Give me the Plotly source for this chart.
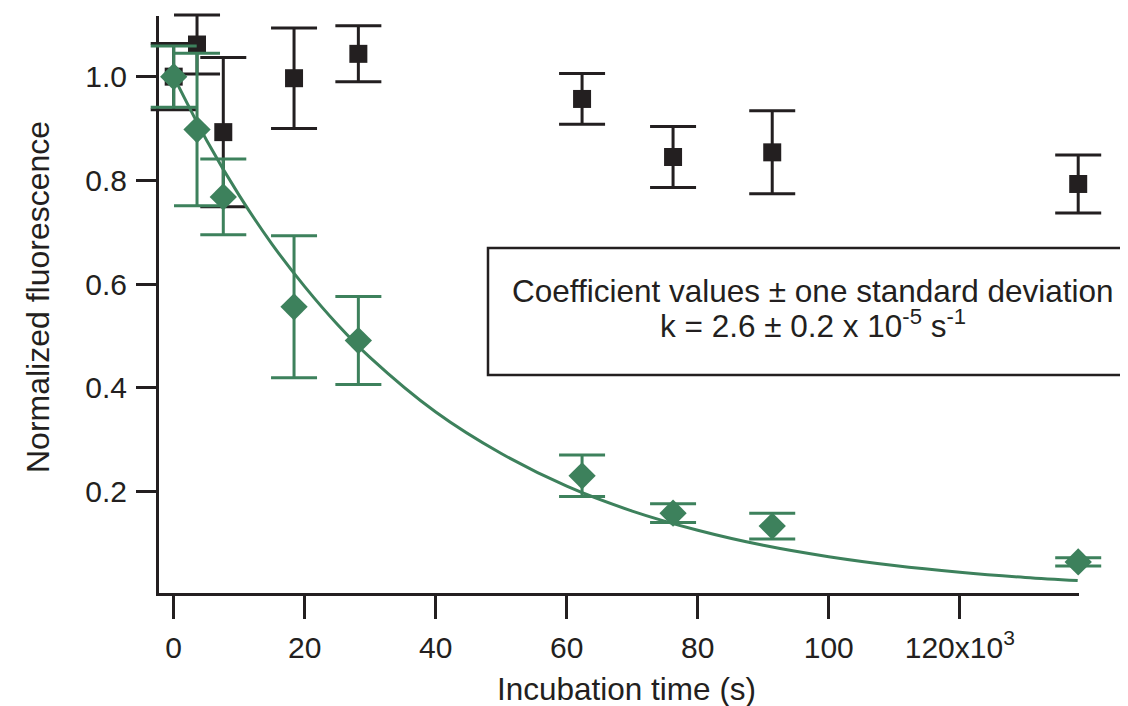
import plotly.graph_objects as go

# ---- data ----
time_s = [0, 3560, 7570, 18370, 28190, 62340, 76230, 91370, 138080]
control_y = [1.000, 1.062, 0.893, 0.997, 1.044, 0.957, 0.845, 0.854, 0.793]
control_err = [0.064, 0.057, 0.144, 0.097, 0.054, 0.049, 0.059, 0.080, 0.056]
treated_y = [1.000, 0.898, 0.768, 0.556, 0.491, 0.230, 0.158, 0.133, 0.064]
treated_err = [0.059, 0.147, 0.073, 0.137, 0.085, 0.040, 0.018, 0.025, 0.008]

fit_x = [0, 5000, 10000, 15000, 20000, 25000, 30000, 40000, 50000, 60000,
         70000, 80000, 90000, 100000, 110000, 120000, 130000, 138000]
fit_y = [1.000, 0.878, 0.771, 0.677, 0.595, 0.522, 0.458, 0.353, 0.273, 0.210,
         0.162, 0.125, 0.096, 0.074, 0.057, 0.044, 0.034, 0.028]

x_tickvals = [0, 20000, 40000, 60000, 80000, 100000, 120000]
x_ticktext = ["0", "20", "40", "60", "80", "100", "120x10<sup>3</sup>"]
y_tickvals = [0.2, 0.4, 0.6, 0.8, 1.0]
y_ticktext = ["0.2", "0.4", "0.6", "0.8", "1.0"]

BLACK = "#231f20"
GREEN = "#3d815c"
FONT = "Liberation Sans, Arial, sans-serif"

OFF = 8  # default page body margin
W, H = 1128 - OFF, 706 - OFF
# visible axes frame (page pixels, converted to figure pixels)
PX_L, PX_R, PX_T, PX_B = 159 - OFF, 1079 - OFF, 16 - OFF, 593 - OFF
X_RANGE = [-2244, 138200]
Y_RANGE = [0.004, 1.117]


def px(x):
    return (x - OFF) / W


def py(y):
    return (H - (y - OFF)) / H


# full-figure data subplot with the same scale (so error bars are not clipped)
ux = (X_RANGE[1] - X_RANGE[0]) / (PX_R - PX_L)
uy = (Y_RANGE[1] - Y_RANGE[0]) / (PX_B - PX_T)
X2_RANGE = [X_RANGE[0] - PX_L * ux, X_RANGE[1] + (W - PX_R) * ux]
Y2_RANGE = [Y_RANGE[0] - (H - PX_B) * uy, Y_RANGE[1] + PX_T * uy]

fig = go.Figure()

# invisible trace to activate the display axes
fig.add_trace(go.Scatter(x=[None], y=[None], xaxis="x", yaxis="y",
                         mode="markers", showlegend=False, hoverinfo="skip"))

fig.add_trace(go.Scatter(
    x=time_s, y=control_y, mode="markers", xaxis="x2", yaxis="y2",
    marker=dict(symbol="square", size=18, color=BLACK),
    error_y=dict(type="data", array=control_err, color=BLACK, thickness=3, width=23),
    cliponaxis=False, showlegend=False))

fig.add_trace(go.Scatter(
    x=fit_x, y=fit_y, mode="lines", xaxis="x2", yaxis="y2",
    line=dict(color=GREEN, width=3, shape="spline"),
    showlegend=False))

fig.add_trace(go.Scatter(
    x=time_s, y=treated_y, mode="markers", xaxis="x2", yaxis="y2",
    marker=dict(symbol="diamond", size=21, color=GREEN),
    error_y=dict(type="data", array=treated_err, color=GREEN, thickness=3, width=23),
    cliponaxis=False, showlegend=False))

fig.update_layout(
    width=W, height=H,
    margin=dict(l=0, r=0, t=0, b=0, autoexpand=False),
    paper_bgcolor="white", plot_bgcolor="rgba(0,0,0,0)",
    font=dict(family=FONT, size=30, color=BLACK),
    showlegend=False,
    xaxis=dict(
        domain=[PX_L / W, PX_R / W], anchor="y", range=X_RANGE,
        showgrid=False, zeroline=False, automargin=False,
        showline=True, linecolor=BLACK, linewidth=3,
        ticks="outside", ticklen=23, tickwidth=3, tickcolor=BLACK,
        tickvals=x_tickvals, ticktext=x_ticktext, ticklabelstandoff=3,
        tickfont=dict(size=30, family=FONT, color=BLACK),
    ),
    yaxis=dict(
        domain=[(H - PX_B) / H, (H - PX_T) / H], anchor="x", range=Y_RANGE,
        showgrid=False, zeroline=False, automargin=False,
        showline=True, linecolor=BLACK, linewidth=3,
        ticks="outside", ticklen=20, tickwidth=3, tickcolor=BLACK,
        tickvals=y_tickvals, ticktext=y_ticktext, ticklabelstandoff=3,
        tickfont=dict(size=30, family=FONT, color=BLACK),
    ),
    xaxis2=dict(domain=[0, 1], anchor="y2", range=X2_RANGE, visible=False,
                automargin=False, fixedrange=True),
    yaxis2=dict(domain=[0, 1], anchor="x2", range=Y2_RANGE, visible=False,
                automargin=False, fixedrange=True),
)

# axis titles
fig.add_annotation(xref="paper", yref="paper", x=px(38), y=py(297),
                   text="Normalized fluorescence", textangle=-90, showarrow=False,
                   xanchor="center", yanchor="middle",
                   font=dict(size=32, family=FONT, color=BLACK))
fig.add_annotation(xref="paper", yref="paper", x=px(626), y=py(689),
                   text="Incubation time (s)", showarrow=False,
                   xanchor="center", yanchor="middle",
                   font=dict(size=31.5, family=FONT, color=BLACK))

# coefficient box
fig.add_shape(type="rect", xref="paper", yref="paper",
              x0=px(488), x1=px(1140), y0=py(375), y1=py(248),
              line=dict(color=BLACK, width=2.5), fillcolor="rgba(0,0,0,0)", layer="above")
fig.add_annotation(xref="paper", yref="paper", x=px(813), y=py(291),
                   text="Coefficient values ± one standard deviation", showarrow=False,
                   xanchor="center", yanchor="middle",
                   font=dict(size=31.5, family=FONT, color=BLACK))
fig.add_annotation(xref="paper", yref="paper", x=px(813), y=py(324),
                   text="k = 2.6 ± 0.2 x 10<sup>-5</sup> s<sup>-1</sup>", showarrow=False,
                   xanchor="center", yanchor="middle",
                   font=dict(size=31.5, family=FONT, color=BLACK))

fig.write_html("out.html")
